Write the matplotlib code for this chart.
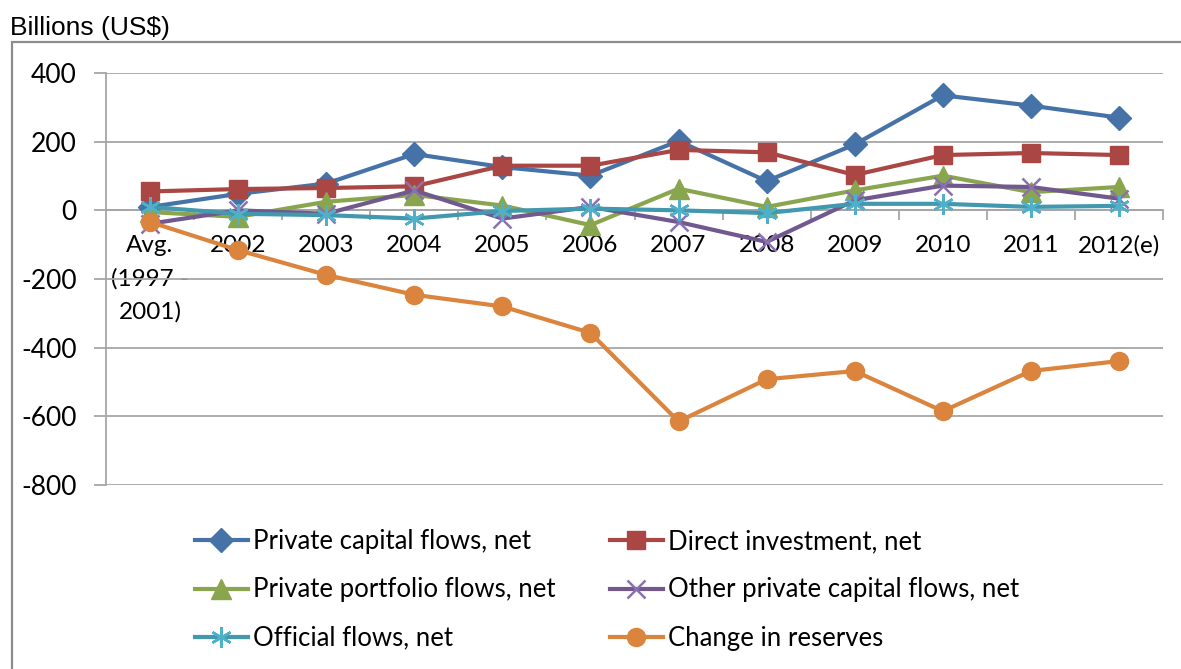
import matplotlib
matplotlib.use("Agg")
import matplotlib.pyplot as plt
from matplotlib.patches import Rectangle

categories = ["Avg.\n(1997 -\n2001)", "2002", "2003", "2004", "2005", "2006",
              "2007", "2008", "2009", "2010", "2011", "2012(e)"]
private_capital = [10, 48, 78, 164, 126, 101, 202, 85, 192, 335, 305, 270]
direct_investment = [55, 62, 65, 70, 130, 130, 176, 169, 103, 161, 167, 161]
portfolio = [-5, -19, 25, 45, 14, -43, 63, 10, 58, 101, 53, 68]
other_private = [-39, 0, -10, 58, -24, 10, -34, -92, 29, 72, 68, 34]
official = [10, -10, -14, -24, -2, 5, 0, -8, 19, 19, 10, 13]
reserves = [-34, -116, -188, -246, -280, -357, -615, -492, -468, -585, -468, -439]
yticks = [400, 200, 0, -200, -400, -600, -800]

names = ["Private capital flows, net", "Direct investment, net",
         "Private portfolio flows, net", "Other private capital flows, net",
         "Official flows, net", "Change in reserves"]

FONT = "Lato"
W, H = 1181, 669
fig = plt.figure(figsize=(W / 100, H / 100), dpi=100)

# outer chart frame
fig.patches.append(Rectangle((12 / W, -0.1), 1.2, 1 - 42 / H + 0.1,
                             transform=fig.transFigure, fill=False,
                             edgecolor="#8c8c8c", linewidth=1.6))
fig.text(10 / W, 1 - 28 / H, "Billions (US$)", fontsize=19,
         family="Liberation Sans", va="center", ha="left")

ax = fig.add_axes([106 / W, 1 - 485 / H, (1163 - 106) / W, (485 - 73) / H])
x = list(range(len(categories)))

series = [
    (private_capital, "#4572A7", dict(marker="D", markersize=12)),
    (direct_investment, "#AA4643", dict(marker="s", markersize=13)),
    (portfolio, "#89A54E", dict(marker="^", markersize=14)),
    (other_private, "#71588F", dict(marker="x", markersize=13, markeredgewidth=1.8,
                                    markeredgecolor="#8a72b0")),
    (official, "#4198AF", dict(marker=(6, 2, 0), markersize=15, markeredgewidth=1.8,
                               markeredgecolor="#4fb0c9")),
    (reserves, "#DB843D", dict(marker="o", markersize=13)),
]
handles = []
for i, (vals, col, mk) in enumerate(series):
    kw = dict(color=col, linewidth=3.0, markerfacecolor=col, markeredgecolor=col)
    kw.update(mk)
    ln, = ax.plot(x, vals, zorder=3 + i, label=names[i], clip_on=False, **kw)
    handles.append(ln)

ax.set_xlim(-0.5, len(categories) - 0.5)
ax.set_ylim(-800, 400)
ax.set_yticks(yticks)
ax.set_yticklabels([str(v) for v in yticks], family=FONT, fontsize=19)
ax.yaxis.grid(True, color="#a6a6a6", linewidth=1.3)
ax.set_axisbelow(True)
for s in ["top", "right"]:
    ax.spines[s].set_visible(False)
ax.spines["left"].set_color("#a6a6a6")
ax.spines["left"].set_linewidth(1.3)
ax.spines["bottom"].set_position(("data", 0))
ax.spines["bottom"].set_color("#a6a6a6")
ax.spines["bottom"].set_linewidth(1.3)
ax.tick_params(axis="y", length=9, width=1.3, color="#a6a6a6", pad=12)
ax.set_xticks(x)
ax.set_xticklabels(categories, family=FONT, fontsize=17.5, linespacing=1.65)
ax.tick_params(axis="x", which="major", length=0, pad=18)
ax.set_xticks([i + 0.5 for i in x], minor=True)
ax.tick_params(axis="x", which="minor", length=7, width=1.3, color="#a6a6a6")

leg_kw = dict(frameon=False, prop={"family": FONT, "size": 18.5}, handlelength=2.05,
              handletextpad=0.2, labelspacing=0.9, borderpad=0, borderaxespad=0,
              loc="center left")
fig.legend([handles[0], handles[2], handles[4]], [names[0], names[2], names[4]],
           bbox_to_anchor=(195 / W, 1 - 590 / H), **leg_kw)
fig.legend([handles[1], handles[3], handles[5]], [names[1], names[3], names[5]],
           bbox_to_anchor=(610 / W, 1 - 590 / H), **leg_kw)

fig.savefig("out.png", dpi=100)
